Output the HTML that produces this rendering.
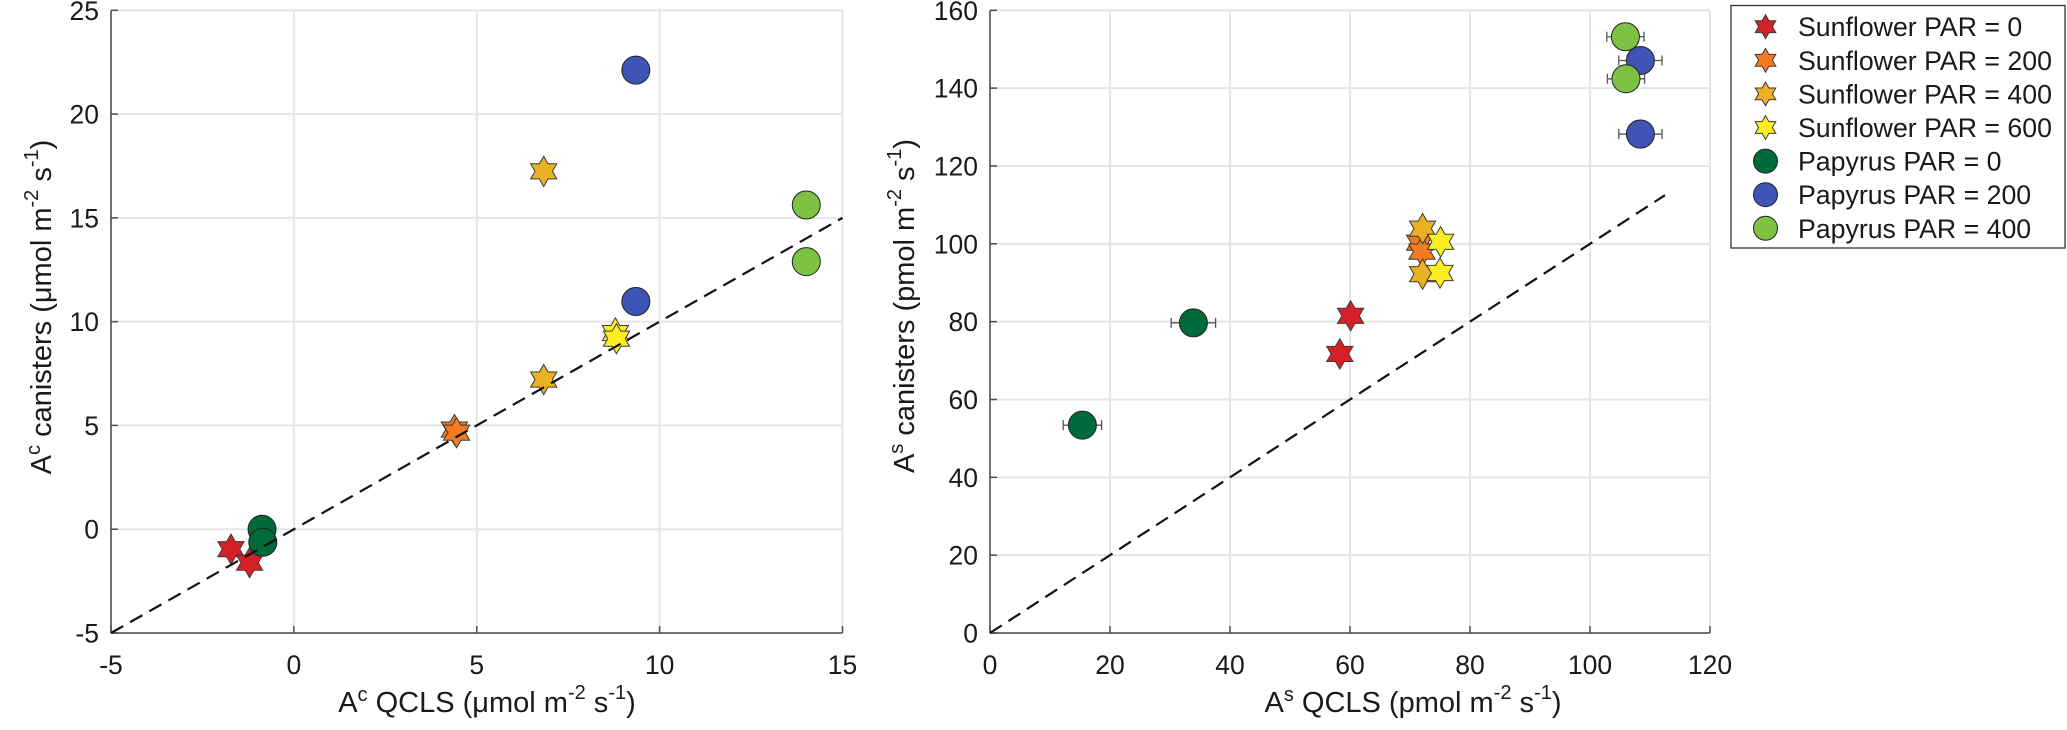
<!DOCTYPE html>
<html><head><meta charset="utf-8">
<style>
html,body{margin:0;padding:0;background:#fff;}
svg{display:block;font-family:"Liberation Sans",sans-serif;}
</style></head>
<body>
<svg id="chart" width="2067" height="730" viewBox="0 0 2067 730" xmlns="http://www.w3.org/2000/svg" style="position:absolute;left:0;top:0">
<g id="left"></g>
<g id="right"></g>
<g id="legend"></g>
<g fill="#1a1a1a" font-family="Liberation Sans, sans-serif">
<text x="487" y="712" text-anchor="middle" font-size="29">A<tspan font-size="20" dy="-11">c</tspan><tspan dy="11"> QCLS (μmol m</tspan><tspan font-size="20" dy="-13">-2</tspan><tspan dy="13"> s</tspan><tspan font-size="20" dy="-13">-1</tspan><tspan dy="13">)</tspan></text>
<text transform="translate(51,307) rotate(-90)" text-anchor="middle" font-size="29">A<tspan font-size="20" dy="-11">c</tspan><tspan dy="11"> canisters (μmol m</tspan><tspan font-size="20" dy="-13">-2</tspan><tspan dy="13"> s</tspan><tspan font-size="20" dy="-13">-1</tspan><tspan dy="13">)</tspan></text>
<text x="1413" y="712" text-anchor="middle" font-size="29">A<tspan font-size="20" dy="-11">s</tspan><tspan dy="11"> QCLS (pmol m</tspan><tspan font-size="20" dy="-13">-2</tspan><tspan dy="13"> s</tspan><tspan font-size="20" dy="-13">-1</tspan><tspan dy="13">)</tspan></text>
<text transform="translate(914,306) rotate(-90)" text-anchor="middle" font-size="29">A<tspan font-size="20" dy="-11">s</tspan><tspan dy="11"> canisters (pmol m</tspan><tspan font-size="20" dy="-13">-2</tspan><tspan dy="13"> s</tspan><tspan font-size="20" dy="-13">-1</tspan><tspan dy="13">)</tspan></text>
</g>
</svg>
<script>
// ---- data ----
const seriesNames = ["Sunflower PAR = 0","Sunflower PAR = 200","Sunflower PAR = 400","Sunflower PAR = 600","Papyrus PAR = 0","Papyrus PAR = 200","Papyrus PAR = 400"];
const seriesColors = ["#d62028","#f47b20","#ebb023","#fcee21","#006b3a","#3f55b5","#7dc242"];
const seriesShapes = ["star","star","star","star","circle","circle","circle"];
// left panel (A^c, umol)
const leftX = [[-1.72,-1.21],[4.39,4.45],[6.83,6.83],[8.79,8.82],[-0.87,-0.85],[9.35,9.35],[14.01,14.01]];
const leftY = [[-0.96,-1.61],[4.8,4.65],[17.24,7.21],[9.45,9.18],[0.0,-0.63],[22.12,10.97],[15.62,12.89]];
const leftXTicks = [-5,0,5,10,15];
const leftYTicks = [-5,0,5,10,15,20,25];
// right panel (A^s, pmol)
const rightX = [[60.1,58.3],[71.6,72.0],[72.1,72.1],[75.1,75.0],[15.4,33.9],[108.4,108.4],[105.9,106.0]];
const rightY = [[81.5,71.7],[100.3,98.0],[103.9,92.2],[100.5,92.5],[53.4,79.7],[147.1,128.2],[153.2,142.4]];
const rightXErr = [[0,0],[0,0],[0,0],[0,0],[3.2,3.7],[3.6,3.6],[3.1,3.1]];
const rightXTicks = [0,20,40,60,80,100,120];
const rightYTicks = [0,20,40,60,80,100,120,140,160];
const rightLineEnd = 112.5;

const NS="http://www.w3.org/2000/svg";
function mk(parent,tag,attrs){const e=document.createElementNS(NS,tag);for(const k in attrs)e.setAttribute(k,attrs[k]);parent.appendChild(e);return e;}

function hexagram(cx,cy,r){
  const pts=[];const ri=r/Math.sqrt(3);
  for(let i=0;i<12;i++){const a=-Math.PI/2+i*Math.PI/6;const rr=i%2===0?r:ri;pts.push((cx+rr*Math.cos(a)).toFixed(1)+","+(cy+rr*Math.sin(a)).toFixed(1));}
  return pts.join(" ");
}
function marker(g,shape,cx,cy,color,size){
  let e;
  if(shape==="star"){e=mk(g,"polygon",{points:hexagram(cx,cy,size*1.08),fill:color,stroke:"#3a3a3a","stroke-width":1});}
  else{e=mk(g,"circle",{cx:cx,cy:cy,r:size,fill:color,stroke:"#222","stroke-width":1});}
  return e;
}

function panel(g,cfg){
  const sx=v=>cfg.x0+(v-cfg.xmin)/(cfg.xmax-cfg.xmin)*(cfg.x1-cfg.x0);
  const sy=v=>cfg.y0-(v-cfg.ymin)/(cfg.ymax-cfg.ymin)*(cfg.y0-cfg.y1);
  cfg.xt.forEach(t=>{const l=mk(g,"line",{x1:sx(t),x2:sx(t),y1:cfg.y1,y2:cfg.y0,stroke:"#e6e6e6","stroke-width":2});
    });
  cfg.yt.forEach(t=>{const l=mk(g,"line",{x1:cfg.x0,x2:cfg.x1,y1:sy(t),y2:sy(t),stroke:"#e6e6e6","stroke-width":2});
    });
  const ax=mk(g,"line",{x1:cfg.x0,x2:cfg.x1,y1:cfg.y0,y2:cfg.y0,stroke:"#4d4d4d","stroke-width":1.5});
  
  const ay=mk(g,"line",{x1:cfg.x0,x2:cfg.x0,y1:cfg.y1,y2:cfg.y0,stroke:"#4d4d4d","stroke-width":1.5});
  
  cfg.xt.forEach(t=>{mk(g,"line",{x1:sx(t),x2:sx(t),y1:cfg.y0,y2:cfg.y0-7,stroke:"#4d4d4d","stroke-width":1.5});
    const tx=mk(g,"text",{x:sx(t),y:674,"text-anchor":"middle","font-size":26.5,fill:"#1a1a1a"});tx.textContent=t;
    });
  cfg.yt.forEach(t=>{mk(g,"line",{x1:cfg.x0,x2:cfg.x0+7,y1:sy(t),y2:sy(t),stroke:"#4d4d4d","stroke-width":1.5});
    const tx=mk(g,"text",{x:cfg.x0-12,y:sy(t)+9.5,"text-anchor":"end","font-size":26.5,fill:"#1a1a1a"});tx.textContent=t;
    });
  for(let s=0;s<seriesNames.length;s++){
    const sg=mk(g,"g",{});
    
    for(let i=0;i<cfg.X[s].length;i++){
      const cx=sx(cfg.X[s][i]),cy=sy(cfg.Y[s][i]);
      if(cfg.E && cfg.E[s][i]>0){
        const a=sx(cfg.X[s][i]-cfg.E[s][i]),b=sx(cfg.X[s][i]+cfg.E[s][i]);
        const eb=mk(sg,"path",{d:`M${a},${cy}H${b}M${a},${cy-5}V${cy+5}M${b},${cy-5}V${cy+5}`,stroke:"#555","stroke-width":1.3,fill:"none"});
        
      }
      const m=marker(sg,seriesShapes[s],cx,cy,seriesColors[s],14);
      
    }
  }
  const dl=mk(g,"line",{x1:sx(cfg.lx0),y1:sy(cfg.lx0),x2:sx(cfg.lx1),y2:sy(cfg.lx1),stroke:"#111","stroke-width":2.2,"stroke-dasharray":"14,8"});
  
}

panel(document.getElementById("left"),{x0:111,x1:842.5,y0:633,y1:10.3,xmin:-5,xmax:15,ymin:-5,ymax:25,xt:leftXTicks,yt:leftYTicks,X:leftX,Y:leftY,lx0:-5,lx1:15});
panel(document.getElementById("right"),{x0:990,x1:1710,y0:633,y1:10.3,xmin:0,xmax:120,ymin:0,ymax:160,xt:rightXTicks,yt:rightYTicks,X:rightX,Y:rightY,E:rightXErr,lx0:0,lx1:rightLineEnd});

const lg=document.getElementById("legend");
const lb=mk(lg,"rect",{x:1731,y:5.5,width:334,height:242.5,fill:"#fff",stroke:"#333","stroke-width":1.3});

for(let s=0;s<seriesNames.length;s++){
  const y=26.7+s*33.6;
  const eg=mk(lg,"g",{});
  
  marker(eg,seriesShapes[s],1765.5,y,seriesColors[s],seriesShapes[s]==="star"?11:12);
  const t=mk(eg,"text",{x:1798,y:y+9.5,"font-size":26.7,fill:"#1a1a1a"});t.textContent=seriesNames[s];
}
</script>
</body></html>
